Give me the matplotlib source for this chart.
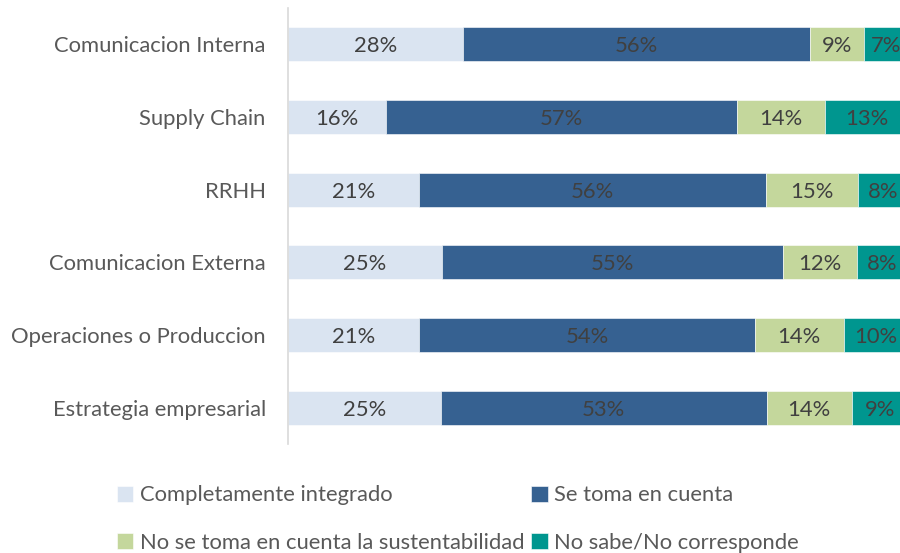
import matplotlib
matplotlib.use("Agg")
import matplotlib.pyplot as plt
import numpy as np

plt.rcParams['font.family'] = ['Lato', 'DejaVu Sans']

categories = ["Comunicacion Interna", "Supply Chain", "RRHH",
              "Comunicacion Externa", "Operaciones o Produccion",
              "Estrategia empresarial"]
series_names = ["Completamente integrado", "Se toma en cuenta",
                "No se toma en cuenta la sustentabilidad", "No sabe/No corresponde"]
integrado = [28.2, 15.8, 21.1, 24.8, 21.1, 24.6]
toma_cuenta = [56.0, 56.6, 56.0, 55.0, 54.2, 52.6]
no_toma = [8.7, 14.2, 14.8, 11.9, 14.3, 13.7]
no_sabe = [7.1, 13.4, 8.1, 8.3, 10.4, 9.1]
colors = ["#DAE4F1", "#366191", "#C4D79C", "#00968F"]

series = [integrado, toma_cuenta, no_toma, no_sabe]
fs = 15.8

fig = plt.figure(figsize=(9, 5.53), dpi=100)
ax = fig.add_axes([288 / 900, 109 / 553, 620 / 900, 436 / 553])

y = np.arange(len(categories))
left = np.zeros(len(categories))
bars = []
for vals, name, col in zip(series, series_names, colors):
    vals = np.array(vals)
    b = ax.barh(y, vals, left=left, height=0.47, color=col, label=name,
                edgecolor='white', linewidth=0.4)
    bars.append(b)
    for yi, (l, v) in enumerate(zip(left, vals)):
        ax.text(l + v / 2, yi, f"{v:.0f}%", ha='center', va='center_baseline',
                fontsize=fs, color='#404040')
    left = left + vals

ax.set_xlim(0, 100)
ax.set_ylim(-0.5, len(categories) - 0.5)
ax.invert_yaxis()
ax.set_yticks(y)
ax.set_yticklabels(categories, fontsize=fs, color='#595959')
ax.tick_params(axis='y', length=0, pad=16)
ax.set_xticks([])
for s in ['top', 'right', 'bottom']:
    ax.spines[s].set_visible(False)
ax.spines['left'].set_color('#D9D9D9')
ax.spines['left'].set_linewidth(1.2)

# legend is filled row by row in the reference
order = [0, 2, 1, 3]
leg = fig.legend(handles=[bars[i] for i in order],
                 labels=[series_names[i] for i in order], ncol=2,
                 loc='center', bbox_to_anchor=(458 / 900, 1 - 519 / 553),
                 frameon=False, fontsize=fs, handlelength=0.75,
                 handleheight=0.75, handletextpad=0.3, columnspacing=0.3,
                 labelspacing=1.25, labelcolor='#595959')

fig.savefig("out.png", dpi=100)
